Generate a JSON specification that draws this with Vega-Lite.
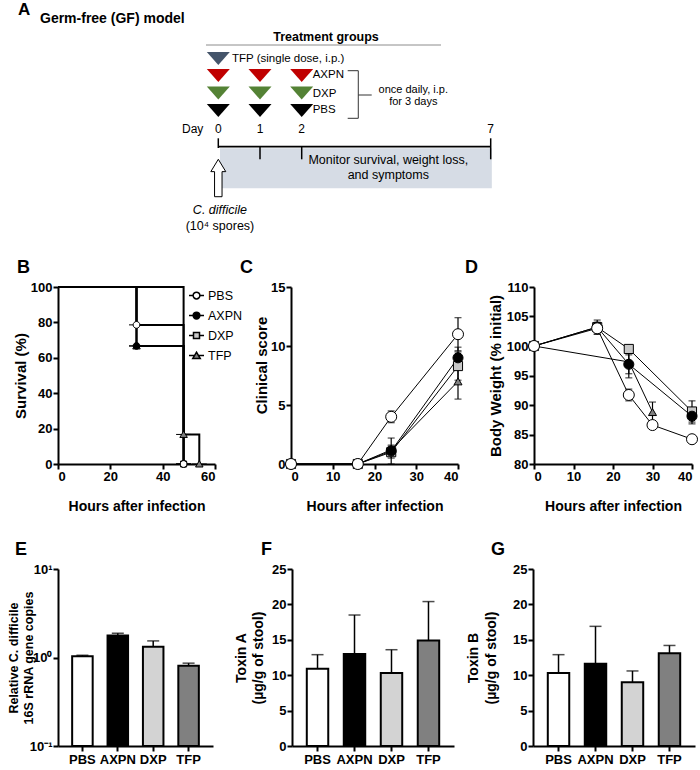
{
 "$schema": "https://vega.github.io/schema/vega-lite/v6.json",
 "padding": {"left": 7, "top": 0, "right": 0, "bottom": 0},
 "background": "white",
 "config": {
  "font": "Liberation Sans",
  "view": {"stroke": null},
  "axis": {"domainColor": "black", "domainWidth": 2, "tickColor": "black", "tickWidth": 2, "tickSize": 5, "labelColor": "black", "labelFontSize": 13, "labelFontWeight": "bold", "labelPadding": 1, "titleColor": "black", "titleFontWeight": "bold", "titleFontSize": 15, "grid": false},
  "title": {"fontSize": 18, "fontWeight": "bold", "anchor": "start", "frame": "group", "color": "black", "offset": 4}
 },
 "datasets": {
  "a_bold17": [{"t": "A", "day": -4.803, "lev": 1.53}],
  "a_bold14": [{"t": "Germ-free (GF) model", "day": -4.276, "lev": 2.3}],
  "a_bold125": [{"t": "Treatment groups", "day": 2.643, "lev": 4.1}],
  "a_left": [{"t": "TFP (single dose, i.p.)", "day": 0.329, "lev": 6.15}, {"t": "AXPN", "day": 2.291, "lev": 7.83}, {"t": "DXP", "day": 2.291, "lev": 9.65}, {"t": "PBS", "day": 2.291, "lev": 11.33}],
  "a_center11": [{"t": "once daily, i.p.", "day": 4.952, "lev": 9.3}, {"t": "for 3 days", "day": 4.952, "lev": 10.45}],
  "a_center12": [{"t": "Day", "day": -0.614, "lev": 13.3}, {"t": "0", "day": 0, "lev": 13.3}, {"t": "1", "day": 1, "lev": 13.3}, {"t": "2", "day": 2, "lev": 13.3}, {"t": "7", "day": 7, "lev": 13.3}],
  "a_center125": [{"t": "Monitor survival, weight loss,", "day": 4.291, "lev": 16.4}, {"t": "and symptoms", "day": 4.291, "lev": 17.9}, {"t": "(10⁴ spores)", "day": 0.04, "lev": 23.0}],
  "a_italic": [{"t": "C. difficile", "day": 0.04, "lev": 21.4}],
  "a_tri": [{"arm": "TFP", "day": 0, "lev": 5.85}, {"arm": "AXPN", "day": 0, "lev": 7.55}, {"arm": "AXPN", "day": 1, "lev": 7.55}, {"arm": "AXPN", "day": 2, "lev": 7.55}, {"arm": "DXP", "day": 0, "lev": 9.3}, {"arm": "DXP", "day": 1, "lev": 9.3}, {"arm": "DXP", "day": 2, "lev": 9.3}, {"arm": "PBS", "day": 0, "lev": 11.05}, {"arm": "PBS", "day": 1, "lev": 11.05}, {"arm": "PBS", "day": 2, "lev": 11.05}],
  "a_gray": [{"day": -0.295, "day2": 5.685, "lev": 4.5, "lev2": 4.5}],
  "a_bracket": [{"day": 3.217, "day2": 3.497, "lev": 7.07, "lev2": 7.07}, {"day": 3.497, "day2": 3.497, "lev": 7.07, "lev2": 11.83}, {"day": 3.497, "day2": 3.852, "lev": 9.5, "lev2": 9.5}, {"day": 3.217, "day2": 3.497, "lev": 11.83, "lev2": 11.83}],
  "a_timeline": [{"day": 0, "day2": 7, "lev": 14.67, "lev2": 14.67}],
  "a_ticks": [{"day": 0, "day2": 0, "lev": 13.83, "lev2": 14.8}, {"day": 1, "day2": 1, "lev": 14.67, "lev2": 15.93}, {"day": 2, "day2": 2, "lev": 14.67, "lev2": 15.93}, {"day": 7, "day2": 7, "lev": 13.83, "lev2": 15.93}],
  "a_rect": [{"day": 0.041, "day2": 7.03, "lev": 14.83, "lev2": 18.83}],
  "a_arrow": [{"day": 0, "lev": 17.8}],
  "surv": [
   {"group": "DXP", "hours": 0, "pct": 100}, {"group": "DXP", "hours": 48, "pct": 0},
   {"group": "TFP", "hours": 0, "pct": 100}, {"group": "TFP", "hours": 30, "pct": 66.7}, {"group": "TFP", "hours": 48, "pct": 16.7}, {"group": "TFP", "hours": 54, "pct": 0},
   {"group": "AXPN", "hours": 0, "pct": 100}, {"group": "AXPN", "hours": 30, "pct": 66.7}, {"group": "AXPN", "hours": 48, "pct": 0},
   {"group": "PBS", "hours": 0, "pct": 100}, {"group": "PBS", "hours": 30, "pct": 78.6}, {"group": "PBS", "hours": 48, "pct": 0}
  ],
  "clin": [
   {"group": "TFP", "hours": 0, "mean": 0, "lo": 0, "hi": 0}, {"group": "TFP", "hours": 16, "mean": 0, "lo": 0, "hi": 0}, {"group": "TFP", "hours": 24, "mean": 1.2, "lo": 0.8, "hi": 1.6}, {"group": "TFP", "hours": 40, "mean": 7.0, "lo": 5.5, "hi": 8.5},
   {"group": "DXP", "hours": 0, "mean": 0, "lo": 0, "hi": 0}, {"group": "DXP", "hours": 16, "mean": 0, "lo": 0, "hi": 0}, {"group": "DXP", "hours": 24, "mean": 1.0, "lo": 0.5, "hi": 1.5}, {"group": "DXP", "hours": 40, "mean": 8.3, "lo": 7.1, "hi": 9.5},
   {"group": "AXPN", "hours": 0, "mean": 0, "lo": 0, "hi": 0}, {"group": "AXPN", "hours": 16, "mean": 0, "lo": 0, "hi": 0}, {"group": "AXPN", "hours": 24, "mean": 1.1, "lo": 0.0, "hi": 2.2}, {"group": "AXPN", "hours": 40, "mean": 9.0, "lo": 8.1, "hi": 9.9},
   {"group": "PBS", "hours": 0, "mean": 0, "lo": 0, "hi": 0}, {"group": "PBS", "hours": 16, "mean": 0, "lo": 0, "hi": 0}, {"group": "PBS", "hours": 24, "mean": 4.0, "lo": 3.5, "hi": 4.5}, {"group": "PBS", "hours": 40, "mean": 11.0, "lo": 9.6, "hi": 12.4}
  ],
  "wt": [
   {"group": "TFP", "hours": 0, "mean": 100, "lo": 100, "hi": 100}, {"group": "TFP", "hours": 24, "mean": 97.3, "lo": 94.6, "hi": 100.0}, {"group": "TFP", "hours": 30, "mean": 88.8, "lo": 87.1, "hi": 90.5},
   {"group": "DXP", "hours": 0, "mean": 100, "lo": 100, "hi": 100}, {"group": "DXP", "hours": 16, "mean": 103.2, "lo": 102.4, "hi": 104.0}, {"group": "DXP", "hours": 24, "mean": 99.5, "lo": 99.0, "hi": 100.0}, {"group": "DXP", "hours": 40, "mean": 88.9, "lo": 87.1, "hi": 90.7},
   {"group": "AXPN", "hours": 0, "mean": 100, "lo": 100, "hi": 100}, {"group": "AXPN", "hours": 16, "mean": 103.2, "lo": 102.0, "hi": 104.4}, {"group": "AXPN", "hours": 24, "mean": 96.9, "lo": 95.3, "hi": 98.5}, {"group": "AXPN", "hours": 40, "mean": 88.1, "lo": 86.8, "hi": 89.4},
   {"group": "PBS", "hours": 0, "mean": 100, "lo": 100, "hi": 100}, {"group": "PBS", "hours": 16, "mean": 103.0, "lo": 102.0, "hi": 104.0}, {"group": "PBS", "hours": 24, "mean": 91.7, "lo": 90.7, "hi": 92.7}, {"group": "PBS", "hours": 30, "mean": 86.6, "lo": 86.1, "hi": 87.1}, {"group": "PBS", "hours": 40, "mean": 84.2, "lo": 84.0, "hi": 84.4}
  ],
  "copies": [{"group": "PBS", "mean": 1.03, "hi": 1.06}, {"group": "AXPN", "mean": 1.77, "hi": 1.88}, {"group": "DXP", "mean": 1.32, "hi": 1.54}, {"group": "TFP", "mean": 0.805, "hi": 0.863}],
  "toxa": [{"group": "PBS", "mean": 10.9, "hi": 12.9}, {"group": "AXPN", "mean": 13.0, "hi": 18.5}, {"group": "DXP", "mean": 10.3, "hi": 13.6}, {"group": "TFP", "mean": 14.9, "hi": 20.4}],
  "toxb": [{"group": "PBS", "mean": 10.3, "hi": 12.9}, {"group": "AXPN", "mean": 11.6, "hi": 16.9}, {"group": "DXP", "mean": 9.0, "hi": 10.6}, {"group": "TFP", "mean": 13.1, "hi": 14.2}]
 },
 "bounds": "flush",
 "spacing": 37,
 "resolve": {"scale": {"fill": "independent", "shape": "independent", "size": "independent"}},
 "vconcat": [
  {
   "width": 642, "height": 250,
   "encoding": {
    "x": {"field": "day", "type": "quantitative", "scale": {"domain": [0, 2, 7], "range": [160.3, 243.7, 432.7], "nice": false, "zero": false}, "axis": null},
    "y": {"field": "lev", "type": "quantitative", "scale": {"domain": [0, 25], "range": [0, 250], "nice": false, "zero": false}, "axis": null}
   },
   "layer": [
    {"data": {"name": "a_rect"}, "mark": {"type": "rect", "fill": "#d6dce5"}, "encoding": {"x2": {"field": "day2"}, "y2": {"field": "lev2"}}},
    {"data": {"name": "a_gray"}, "mark": {"type": "rule", "color": "#8c8c8c", "strokeWidth": 1}, "encoding": {"x2": {"field": "day2"}, "y2": {"field": "lev2"}}},
    {"data": {"name": "a_bracket"}, "mark": {"type": "rule", "color": "#333333", "strokeWidth": 1}, "encoding": {"x2": {"field": "day2"}, "y2": {"field": "lev2"}}},
    {"data": {"name": "a_timeline"}, "mark": {"type": "rule", "color": "black", "strokeWidth": 1.8}, "encoding": {"x2": {"field": "day2"}, "y2": {"field": "lev2"}}},
    {"data": {"name": "a_ticks"}, "mark": {"type": "rule", "color": "black", "strokeWidth": 1.5}, "encoding": {"x2": {"field": "day2"}, "y2": {"field": "lev2"}}},
    {"data": {"name": "a_tri"}, "mark": {"type": "point", "shape": "M-1,-0.565L1,-0.565L0,0.565Z", "size": 529, "filled": true, "opacity": 1, "strokeWidth": 0},
     "encoding": {"fill": {"field": "arm", "type": "nominal", "scale": {"domain": ["TFP", "AXPN", "DXP", "PBS"], "range": ["#44546a", "#c00000", "#548235", "#000000"]}, "legend": null}}},
    {"data": {"name": "a_arrow"}, "mark": {"type": "point", "shape": "M0,-1L0.4,-0.34L0.2,-0.34L0.2,1L-0.2,1L-0.2,-0.34L-0.4,-0.34Z", "size": 1400, "filled": true, "fill": "white", "stroke": "black", "strokeWidth": 1, "opacity": 1}},
    {"data": {"name": "a_bold17"}, "mark": {"type": "text", "align": "left", "baseline": "alphabetic", "fontSize": 17, "fontWeight": "bold", "color": "black"}, "encoding": {"text": {"field": "t"}}},
    {"data": {"name": "a_bold14"}, "mark": {"type": "text", "align": "left", "baseline": "alphabetic", "fontSize": 14, "fontWeight": "bold", "color": "black"}, "encoding": {"text": {"field": "t"}}},
    {"data": {"name": "a_bold125"}, "mark": {"type": "text", "align": "center", "baseline": "alphabetic", "fontSize": 12.5, "fontWeight": "bold", "color": "black"}, "encoding": {"text": {"field": "t"}}},
    {"data": {"name": "a_left"}, "mark": {"type": "text", "align": "left", "baseline": "alphabetic", "fontSize": 11.5, "color": "black"}, "encoding": {"text": {"field": "t"}}},
    {"data": {"name": "a_center11"}, "mark": {"type": "text", "align": "center", "baseline": "alphabetic", "fontSize": 11, "color": "black"}, "encoding": {"text": {"field": "t"}}},
    {"data": {"name": "a_center12"}, "mark": {"type": "text", "align": "center", "baseline": "alphabetic", "fontSize": 12, "color": "black"}, "encoding": {"text": {"field": "t"}}},
    {"data": {"name": "a_center125"}, "mark": {"type": "text", "align": "center", "baseline": "alphabetic", "fontSize": 12.5, "color": "black"}, "encoding": {"text": {"field": "t"}}},
    {"data": {"name": "a_italic"}, "mark": {"type": "text", "align": "center", "baseline": "alphabetic", "fontSize": 12.5, "fontStyle": "italic", "color": "black"}, "encoding": {"text": {"field": "t"}}}
   ]
  },
  {
   "bounds": "flush",
   "spacing": 282,
   "resolve": {"scale": {"fill": "independent", "shape": "independent", "size": "independent"}},
   "vconcat": [
    {
     "bounds": "flush",
     "spacing": 76,
     "resolve": {"scale": {"fill": "independent", "shape": "independent", "size": "independent"}},
     "hconcat": [
      {
       "width": 157, "height": 177,
       "title": {"text": "B", "dx": -41},
       "data": {"name": "surv"},
       "encoding": {
        "x": {"field": "hours", "type": "quantitative", "scale": {"domain": [0, 60], "nice": false}, "axis": {"values": [0, 20, 40, 60], "title": "Hours after infection", "titleFontSize": 14, "titleY": 46.5, "titleBaseline": "alphabetic"}},
        "y": {"field": "pct", "type": "quantitative", "scale": {"domain": [0, 100], "nice": false}, "axis": {"values": [0, 20, 40, 60, 80, 100], "title": "Survival (%)", "titleX": -38, "titleBaseline": "middle"}}
       },
       "layer": [
        {"mark": {"type": "line", "interpolate": "step-after", "color": "black", "strokeWidth": 2}, "encoding": {"detail": {"field": "group"}}},
        {"transform": [{"filter": "datum.hours > 0"}],
         "mark": {"type": "point", "filled": true, "opacity": 1, "stroke": "black", "strokeWidth": 1, "size": 225},
         "encoding": {
          "shape": {"field": "group", "type": "nominal", "scale": {"domain": ["PBS", "AXPN", "DXP", "TFP"], "range": ["M-1,0L-0.45,0M0.45,0L1,0M0.45,0A0.45,0.45,0,1,1,-0.45,0A0.45,0.45,0,1,1,0.45,0Z", "M-1,0L-0.45,0M0.45,0L1,0M0.45,0A0.45,0.45,0,1,1,-0.45,0A0.45,0.45,0,1,1,0.45,0Z", "M-1,0L-0.4,0M0.4,0L1,0M-0.4,-0.4L0.4,-0.4L0.4,0.4L-0.4,0.4Z", "M-1,0L-0.27,0M0.27,0L1,0M0,-0.45L0.5,0.4L-0.5,0.4Z"]},
                   "legend": {"title": null, "orient": "none", "legendX": 130, "legendY": 0, "symbolSize": 225, "labelFontSize": 12.5, "labelFontWeight": "normal", "labelColor": "black", "labelOffset": 3, "rowPadding": 5, "padding": 0, "encode": {"symbols": {"update": {"stroke": {"value": "black"}, "strokeWidth": {"value": 1}, "opacity": {"value": 1}}}}}},
          "fill": {"field": "group", "type": "nominal", "scale": {"domain": ["PBS", "AXPN", "DXP", "TFP"], "range": ["white", "black", "#c8c8c8", "#808080"]},
                   "legend": {"title": null, "orient": "none", "legendX": 130, "legendY": 0, "symbolSize": 225, "labelFontSize": 12.5, "labelFontWeight": "normal", "labelColor": "black", "labelOffset": 3, "rowPadding": 5, "padding": 0, "encode": {"symbols": {"update": {"stroke": {"value": "black"}, "strokeWidth": {"value": 1}, "opacity": {"value": 1}}}}}}
         }}
       ]
      },
      {
       "width": 167, "height": 177,
       "title": {"text": "C", "dx": -51},
       "data": {"name": "clin"},
       "encoding": {
        "x": {"field": "hours", "type": "quantitative", "scale": {"domain": [0, 40], "nice": false}, "axis": {"values": [0, 10, 20, 30, 40], "title": "Hours after infection", "titleFontSize": 14, "titleY": 46.5, "titleBaseline": "alphabetic"}}
       },
       "layer": [
        {"mark": {"type": "line", "color": "black", "strokeWidth": 1}, "encoding": {"y": {"field": "mean", "type": "quantitative", "scale": {"domain": [0, 15], "nice": false}, "axis": {"values": [0, 5, 10, 15], "title": "Clinical score", "titleX": -30, "titleY": 78, "titleBaseline": "middle"}}, "detail": {"field": "group"}}},
        {"transform": [{"filter": "datum.hi > datum.lo"}], "mark": {"type": "rule", "color": "black", "strokeWidth": 1.2}, "encoding": {"y": {"field": "lo", "type": "quantitative", "scale": {"domain": [0, 15], "nice": false}, "axis": {"values": [0, 5, 10, 15], "title": "Clinical score", "titleX": -30, "titleY": 78, "titleBaseline": "middle"}}, "y2": {"field": "hi"}}},
        {"transform": [{"filter": "datum.hi > datum.lo"}], "mark": {"type": "tick", "orient": "horizontal", "size": 7, "thickness": 1.2, "color": "black"}, "encoding": {"y": {"field": "hi", "type": "quantitative", "scale": {"domain": [0, 15], "nice": false}, "axis": {"values": [0, 5, 10, 15], "title": "Clinical score", "titleX": -30, "titleY": 78, "titleBaseline": "middle"}}}},
        {"transform": [{"filter": "datum.hi > datum.lo"}], "mark": {"type": "tick", "orient": "horizontal", "size": 7, "thickness": 1.2, "color": "black"}, "encoding": {"y": {"field": "lo", "type": "quantitative", "scale": {"domain": [0, 15], "nice": false}, "axis": {"values": [0, 5, 10, 15], "title": "Clinical score", "titleX": -30, "titleY": 78, "titleBaseline": "middle"}}}},
        {"mark": {"type": "point", "filled": true, "opacity": 1, "stroke": "black", "strokeWidth": 1},
         "encoding": {
          "y": {"field": "mean", "type": "quantitative", "scale": {"domain": [0, 15], "nice": false}, "axis": {"values": [0, 5, 10, 15], "title": "Clinical score", "titleX": -30, "titleY": 78, "titleBaseline": "middle"}},
          "shape": {"field": "group", "type": "nominal", "scale": {"domain": ["PBS", "AXPN", "DXP", "TFP"], "range": ["circle", "circle", "square", "triangle-up"]}, "legend": null},
          "fill": {"field": "group", "type": "nominal", "scale": {"domain": ["PBS", "AXPN", "DXP", "TFP"], "range": ["white", "black", "#c8c8c8", "#808080"]}, "legend": null},
          "size": {"field": "group", "type": "nominal", "scale": {"domain": ["PBS", "AXPN", "DXP", "TFP"], "range": [121, 64, 100, 121]}, "legend": null}
         }}
       ]
      },
      {
       "width": 158, "height": 177,
       "title": {"text": "D", "dx": -69},
       "data": {"name": "wt"},
       "encoding": {
        "x": {"field": "hours", "type": "quantitative", "scale": {"domain": [0, 40], "nice": false}, "axis": {"values": [0, 10, 20, 30, 40], "title": "Hours after infection", "titleFontSize": 14, "titleY": 46.5, "titleBaseline": "alphabetic"}}
       },
       "layer": [
        {"mark": {"type": "line", "color": "black", "strokeWidth": 1}, "encoding": {"y": {"field": "mean", "type": "quantitative", "scale": {"domain": [80, 110], "nice": false, "zero": false}, "axis": {"values": [80, 85, 90, 95, 100, 105, 110], "title": "Body Weight (% initial)", "titleX": -38.7, "titleBaseline": "middle"}}, "detail": {"field": "group"}}},
        {"transform": [{"filter": "datum.hi > datum.lo"}], "mark": {"type": "rule", "color": "black", "strokeWidth": 1.2}, "encoding": {"y": {"field": "lo", "type": "quantitative", "scale": {"domain": [80, 110], "nice": false, "zero": false}, "axis": {"values": [80, 85, 90, 95, 100, 105, 110], "title": "Body Weight (% initial)", "titleX": -38.7, "titleBaseline": "middle"}}, "y2": {"field": "hi"}}},
        {"transform": [{"filter": "datum.hi > datum.lo"}], "mark": {"type": "tick", "orient": "horizontal", "size": 7, "thickness": 1.2, "color": "black"}, "encoding": {"y": {"field": "hi", "type": "quantitative", "scale": {"domain": [80, 110], "nice": false, "zero": false}, "axis": {"values": [80, 85, 90, 95, 100, 105, 110], "title": "Body Weight (% initial)", "titleX": -38.7, "titleBaseline": "middle"}}}},
        {"transform": [{"filter": "datum.hi > datum.lo"}], "mark": {"type": "tick", "orient": "horizontal", "size": 7, "thickness": 1.2, "color": "black"}, "encoding": {"y": {"field": "lo", "type": "quantitative", "scale": {"domain": [80, 110], "nice": false, "zero": false}, "axis": {"values": [80, 85, 90, 95, 100, 105, 110], "title": "Body Weight (% initial)", "titleX": -38.7, "titleBaseline": "middle"}}}},
        {"mark": {"type": "point", "filled": true, "opacity": 1, "stroke": "black", "strokeWidth": 1},
         "encoding": {
          "y": {"field": "mean", "type": "quantitative", "scale": {"domain": [80, 110], "nice": false, "zero": false}, "axis": {"values": [80, 85, 90, 95, 100, 105, 110], "title": "Body Weight (% initial)", "titleX": -38.7, "titleBaseline": "middle"}},
          "shape": {"field": "group", "type": "nominal", "scale": {"domain": ["PBS", "AXPN", "DXP", "TFP"], "range": ["circle", "circle", "square", "triangle-up"]}, "legend": null},
          "fill": {"field": "group", "type": "nominal", "scale": {"domain": ["PBS", "AXPN", "DXP", "TFP"], "range": ["white", "black", "#c8c8c8", "#808080"]}, "legend": null},
          "size": {"field": "group", "type": "nominal", "scale": {"domain": ["PBS", "AXPN", "DXP", "TFP"], "range": [121, 64, 100, 121]}, "legend": null}
         }}
       ]
      }
     ]
    },
    {
     "bounds": "flush",
     "spacing": 79,
     "resolve": {"scale": {"fill": "independent", "shape": "independent", "size": "independent"}},
     "hconcat": [
      {
       "width": 155, "height": 177,
       "title": {"text": "E", "dx": -43},
       "data": {"name": "copies"},
       "encoding": {
        "x": {"field": "group", "type": "nominal", "sort": null, "scale": {"domain": ["PBS", "AXPN", "DXP", "TFP"], "paddingInner": 0.42, "paddingOuter": 0.4}, "axis": {"title": null, "labelAngle": 0, "labelFontSize": 13, "labelPadding": 2}}
       },
       "layer": [
        {"mark": {"type": "bar", "stroke": "black", "strokeWidth": 2},
         "encoding": {
          "y": {"field": "mean", "type": "quantitative", "scale": {"type": "log", "domain": [0.1, 10], "nice": false}, "axis": {"values": [0.1, 1, 10], "labelExpr": "datum.value < 0.5 ? '10⁻¹' : datum.value < 5 ? '10⁰' : '10¹'", "title": ["Relative C. difficile", "16S rRNA gene copies"], "titleFontSize": 12.5, "titleLineHeight": 15.5, "titleX": -45, "titleBaseline": "middle"}},
          "y2": {"datum": 0.1},
          "fill": {"field": "group", "type": "nominal", "scale": {"domain": ["PBS", "AXPN", "DXP", "TFP"], "range": ["white", "black", "#d3d3d3", "#808080"]}, "legend": null}
         }},
        {"mark": {"type": "rule", "color": "black", "strokeWidth": 1.5}, "encoding": {"y": {"field": "mean", "type": "quantitative", "scale": {"type": "log", "domain": [0.1, 10], "nice": false}, "axis": {"values": [0.1, 1, 10], "labelExpr": "datum.value < 0.5 ? '10⁻¹' : datum.value < 5 ? '10⁰' : '10¹'", "title": ["Relative C. difficile", "16S rRNA gene copies"], "titleFontSize": 12.5, "titleLineHeight": 15.5, "titleX": -45, "titleBaseline": "middle"}}, "y2": {"field": "hi"}}},
        {"mark": {"type": "tick", "orient": "horizontal", "size": 12, "thickness": 1.5, "color": "black"}, "encoding": {"y": {"field": "hi", "type": "quantitative", "scale": {"type": "log", "domain": [0.1, 10], "nice": false}, "axis": {"values": [0.1, 1, 10], "labelExpr": "datum.value < 0.5 ? '10⁻¹' : datum.value < 5 ? '10⁰' : '10¹'", "title": ["Relative C. difficile", "16S rRNA gene copies"], "titleFontSize": 12.5, "titleLineHeight": 15.5, "titleX": -45, "titleBaseline": "middle"}}}}
       ]
      },
      {
       "width": 162, "height": 177,
       "title": {"text": "F", "dx": -31},
       "data": {"name": "toxa"},
       "encoding": {
        "x": {"field": "group", "type": "nominal", "sort": null, "scale": {"domain": ["PBS", "AXPN", "DXP", "TFP"], "paddingInner": 0.42, "paddingOuter": 0.4}, "axis": {"title": null, "labelAngle": 0, "labelFontSize": 13, "labelPadding": 2}}
       },
       "layer": [
        {"mark": {"type": "bar", "stroke": "black", "strokeWidth": 2},
         "encoding": {
          "y": {"field": "mean", "type": "quantitative", "scale": {"domain": [0, 25], "nice": false}, "axis": {"values": [0, 5, 10, 15, 20, 25], "title": ["Toxin A", "(µg/g of stool)"], "titleFontSize": 14, "titleLineHeight": 17.3, "titleX": -50.3, "titleBaseline": "middle"}},
          "fill": {"field": "group", "type": "nominal", "scale": {"domain": ["PBS", "AXPN", "DXP", "TFP"], "range": ["white", "black", "#d3d3d3", "#808080"]}, "legend": null}
         }},
        {"mark": {"type": "rule", "color": "black", "strokeWidth": 1.5}, "encoding": {"y": {"field": "mean", "type": "quantitative", "scale": {"domain": [0, 25], "nice": false}, "axis": {"values": [0, 5, 10, 15, 20, 25], "title": ["Toxin A", "(µg/g of stool)"], "titleFontSize": 14, "titleLineHeight": 17.3, "titleX": -50.3, "titleBaseline": "middle"}}, "y2": {"field": "hi"}}},
        {"mark": {"type": "tick", "orient": "horizontal", "size": 12, "thickness": 1.5, "color": "black"}, "encoding": {"y": {"field": "hi", "type": "quantitative", "scale": {"domain": [0, 25], "nice": false}, "axis": {"values": [0, 5, 10, 15, 20, 25], "title": ["Toxin A", "(µg/g of stool)"], "titleFontSize": 14, "titleLineHeight": 17.3, "titleX": -50.3, "titleBaseline": "middle"}}}}
       ]
      },
      {
       "width": 162, "height": 177,
       "title": {"text": "G", "dx": -42},
       "data": {"name": "toxb"},
       "encoding": {
        "x": {"field": "group", "type": "nominal", "sort": null, "scale": {"domain": ["PBS", "AXPN", "DXP", "TFP"], "paddingInner": 0.42, "paddingOuter": 0.4}, "axis": {"title": null, "labelAngle": 0, "labelFontSize": 13, "labelPadding": 2}}
       },
       "layer": [
        {"mark": {"type": "bar", "stroke": "black", "strokeWidth": 2},
         "encoding": {
          "y": {"field": "mean", "type": "quantitative", "scale": {"domain": [0, 25], "nice": false}, "axis": {"values": [0, 5, 10, 15, 20, 25], "title": ["Toxin B", "(µg/g of stool)"], "titleFontSize": 14, "titleLineHeight": 18.7, "titleX": -60, "titleBaseline": "middle"}},
          "fill": {"field": "group", "type": "nominal", "scale": {"domain": ["PBS", "AXPN", "DXP", "TFP"], "range": ["white", "black", "#d3d3d3", "#808080"]}, "legend": null}
         }},
        {"mark": {"type": "rule", "color": "black", "strokeWidth": 1.5}, "encoding": {"y": {"field": "mean", "type": "quantitative", "scale": {"domain": [0, 25], "nice": false}, "axis": {"values": [0, 5, 10, 15, 20, 25], "title": ["Toxin B", "(µg/g of stool)"], "titleFontSize": 14, "titleLineHeight": 18.7, "titleX": -60, "titleBaseline": "middle"}}, "y2": {"field": "hi"}}},
        {"mark": {"type": "tick", "orient": "horizontal", "size": 12, "thickness": 1.5, "color": "black"}, "encoding": {"y": {"field": "hi", "type": "quantitative", "scale": {"domain": [0, 25], "nice": false}, "axis": {"values": [0, 5, 10, 15, 20, 25], "title": ["Toxin B", "(µg/g of stool)"], "titleFontSize": 14, "titleLineHeight": 18.7, "titleX": -60, "titleBaseline": "middle"}}}}
       ]
      }
     ]
    }
   ]
  }
 ]
}
